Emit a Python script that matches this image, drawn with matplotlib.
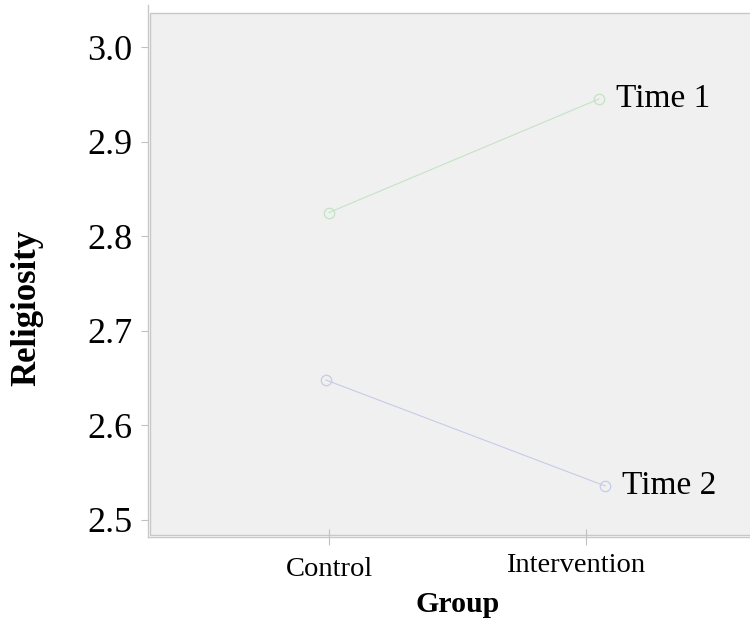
import matplotlib
matplotlib.use("Agg")
import matplotlib.pyplot as plt
import matplotlib.transforms as mtrans
from matplotlib.patches import Rectangle

groups = ["Control", "Intervention"]
series = ["Time 1", "Time 2"]
time1 = [2.825, 2.945]
time2 = [2.648, 2.536]
y_ticks = [2.5, 2.6, 2.7, 2.8, 2.9, 3.0]

dodge = {"Time 1": [0.0, 0.05], "Time 2": [-0.012, 0.074]}
colors = {"Time 1": "#c4e3c4", "Time 2": "#c6cbe8"}

plt.rcParams['font.family'] = ['Liberation Serif', 'DejaVu Serif']

fig = plt.figure(figsize=(7.5, 6.21), dpi=100)
ax = fig.add_axes([148/750, 84/621, 602/750, 532/621])
ax.set_facecolor("white")

# panel
ax.add_patch(Rectangle((2/602, 2/532), 1.0, (522)/532, transform=ax.transAxes,
                       facecolor="#f0f0f0", edgecolor="#c8c8c8", linewidth=1.0,
                       zorder=0, clip_on=False))

for name, vals in zip(series, [time1, time2]):
    xs = [i + d for i, d in enumerate(dodge[name])]
    ax.plot(xs, vals, color=colors[name], linewidth=0.8, marker="o",
            markersize=7.5, markerfacecolor="none", markeredgecolor=colors[name],
            markeredgewidth=0.9, zorder=3)
    ax.annotate(name, (xs[-1], vals[-1]), xytext=(12, 0), textcoords="offset points",
                ha="left", va="center", fontsize=24, color="black")

ax.set_xlim(-0.704, 1.638)
ax.set_ylim(2.482, 3.0444)
ax.set_xticks(range(len(groups)))
ax.set_xticklabels(groups, fontsize=20.5)
ax.set_yticks(y_ticks)
ax.set_yticklabels([f"{v:.1f}" for v in y_ticks], fontsize=26)

for s in ["top", "right"]:
    ax.spines[s].set_visible(False)
for s in ["left", "bottom"]:
    ax.spines[s].set_color("#c8c8c8")
    ax.spines[s].set_linewidth(1.0)

ax.tick_params(axis="y", direction="out", length=5, width=0.8, color="#c0c0c0", pad=6)
ax.tick_params(axis="x", direction="inout", length=11, width=0.8, color="#c0c0c0", pad=9)

lbls = ax.get_xticklabels()
lbls[1].set_transform(lbls[1].get_transform() +
                      mtrans.ScaledTranslation(-10/100, 4/100, fig.dpi_scale_trans))

ax.set_xlabel("Group", fontsize=21.5, fontweight="bold", va="center")
ax.xaxis.set_label_coords((458 - 148) / 602, (537 - 605) / 532)
ax.set_ylabel("Religiosity", fontsize=25, fontweight="bold", va="center")
ax.yaxis.set_label_coords((27 - 148) / 602, (537 - 308) / 532)

fig.savefig("out.png", dpi=100)
